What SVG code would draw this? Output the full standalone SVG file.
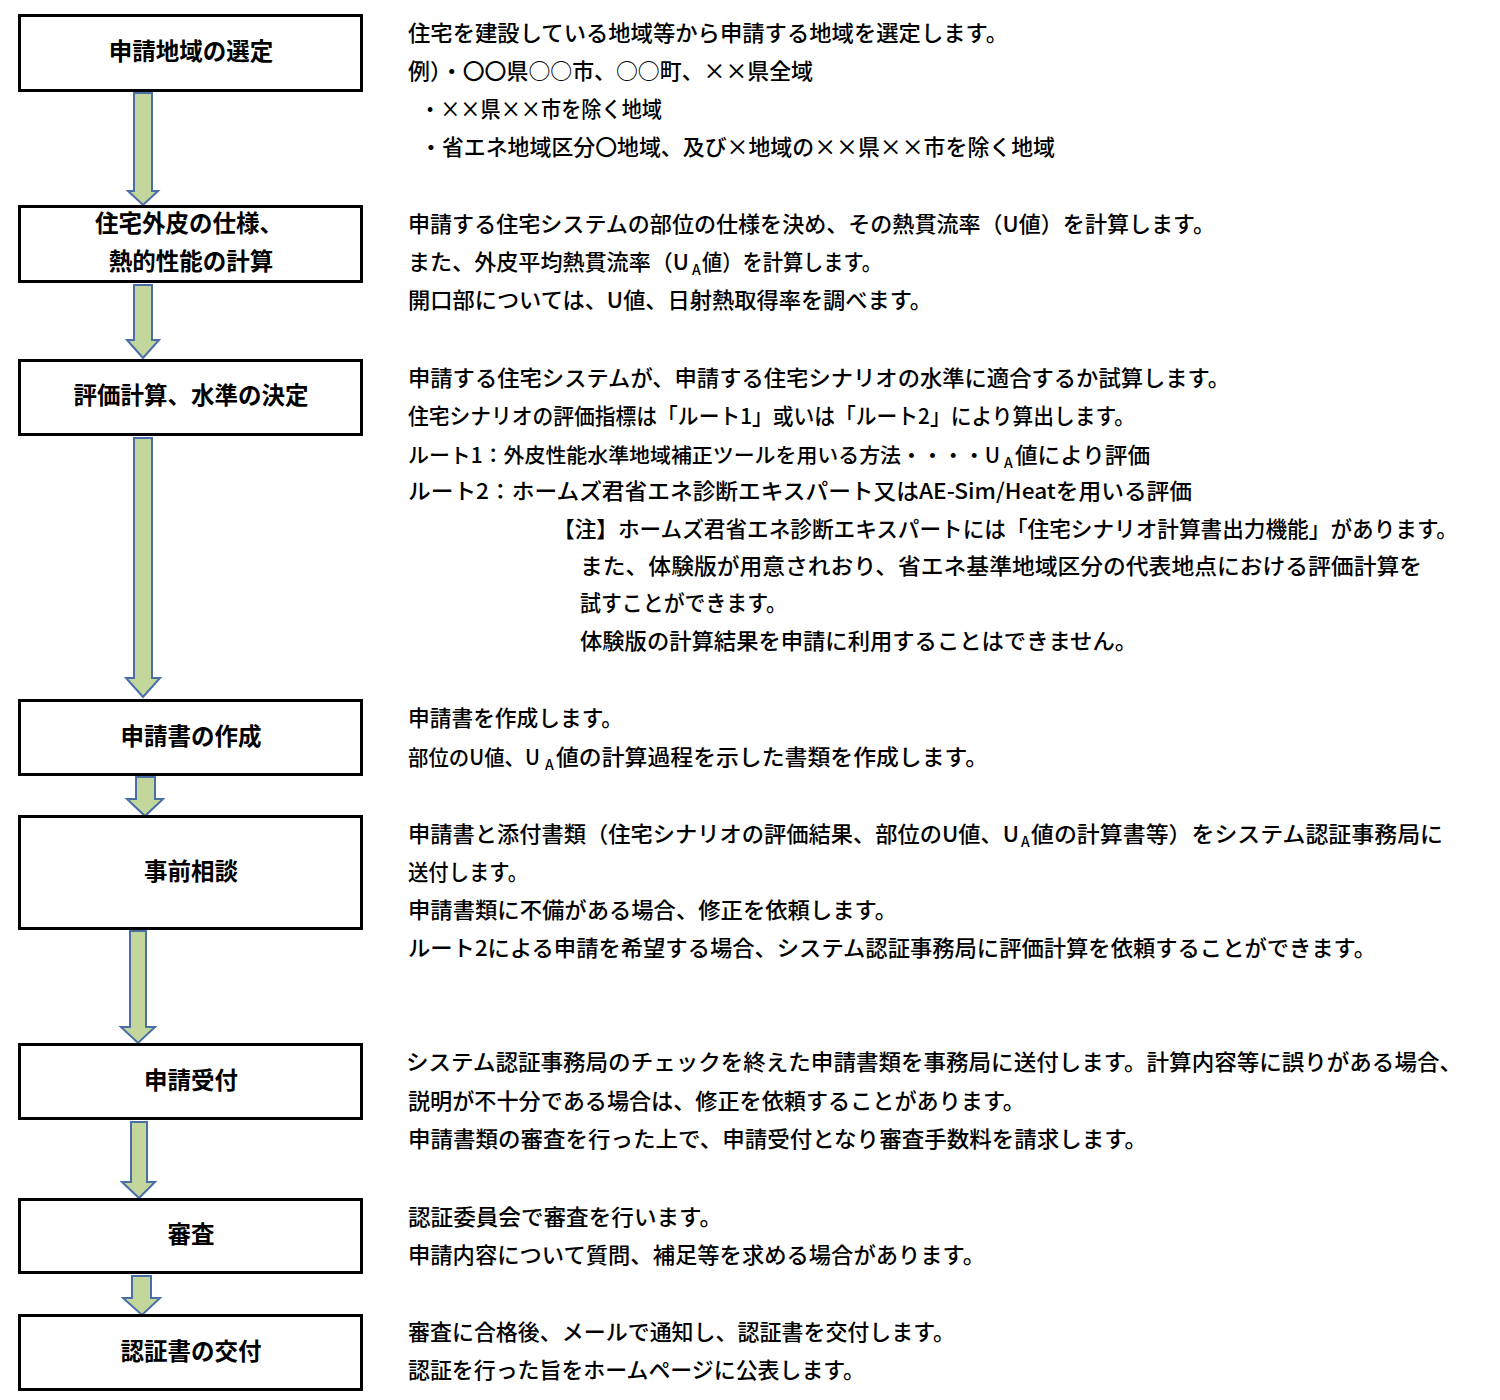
<svg xmlns="http://www.w3.org/2000/svg" width="1500" height="1400" viewBox="0 0 1500 1400">
<style>
.box{fill:#fff;stroke:#000;stroke-width:3}
.lbl{font-family:"Noto Sans CJK JP","Noto Sans",sans-serif;font-size:23.5px;font-weight:bold;fill:#000;text-anchor:middle}
.t{font-family:"Noto Sans CJK JP","Noto Sans",sans-serif;font-size:22px;font-weight:500;fill:#000}
.sub{font-family:"Noto Sans CJK JP","Noto Sans",sans-serif;font-size:14px;font-weight:500;fill:#000}
.arr{fill:#c3d69b;stroke:#4a6fa8;stroke-width:2;stroke-linejoin:miter}
</style>
<rect width="1500" height="1400" fill="#fff"/>
<g id="connectors">
<polygon class="arr" points="134,93 152,93 152,191 158,191 143,205 128,191 134,191"/>
<polygon class="arr" points="134,285 152,285 152,340 159,340 143,358 127,340 134,340"/>
<polygon class="arr" points="134,438 152,438 152,678 160,678 143,697 126,678 134,678"/>
<polygon class="arr" points="136,777 155,777 155,799 163,799 145,816 127,799 136,799"/>
<polygon class="arr" points="130,931 146,931 146,1027 155,1027 138,1043 121,1027 130,1027"/>
<polygon class="arr" points="131,1122 147,1122 147,1182 155,1182 139,1198 122,1182 131,1182"/>
<polygon class="arr" points="132,1276 151,1276 151,1298 160,1298 142,1315 123,1298 132,1298"/>
</g>
<g id="n1"><rect class="box" x="19.5" y="15.5" width="342" height="75"/><text class="lbl" x="191" y="60">申請地域の選定</text></g>
<g id="n2"><rect class="box" x="19.5" y="206.5" width="342" height="75"/><text class="lbl" x="189" y="232">住宅外皮の仕様、</text><text class="lbl" x="191" y="270">熱的性能の計算</text></g>
<g id="n3"><rect class="box" x="19.5" y="360.5" width="342" height="74"/><text class="lbl" x="191" y="404">評価計算、水準の決定</text></g>
<g id="n4"><rect class="box" x="19.5" y="700.5" width="342" height="74"/><text class="lbl" x="191" y="745">申請書の作成</text></g>
<g id="n5"><rect class="box" x="19.5" y="816.5" width="342" height="112"/><text class="lbl" x="191" y="880">事前相談</text></g>
<g id="n6"><rect class="box" x="19.5" y="1044.5" width="342" height="74"/><text class="lbl" x="191" y="1089">申請受付</text></g>
<g id="n7"><rect class="box" x="19.5" y="1199.5" width="342" height="73"/><text class="lbl" x="191" y="1243">審査</text></g>
<g id="n8"><rect class="box" x="19.5" y="1315.5" width="342" height="74"/><text class="lbl" x="191" y="1360">認証書の交付</text></g>
<g id="d1">
<text class="t" x="408" y="41" textLength="600" lengthAdjust="spacingAndGlyphs">住宅を建設している地域等から申請する地域を選定します。</text>
<text class="t" x="408" y="79" textLength="405" lengthAdjust="spacingAndGlyphs">例）・〇〇県○○市、○○町、××県全域</text>
<text class="t" x="420" y="117" textLength="242" lengthAdjust="spacingAndGlyphs">・××県××市を除く地域</text>
<text class="t" x="420" y="155" textLength="635" lengthAdjust="spacingAndGlyphs">・省エネ地域区分〇地域、及び×地域の××県××市を除く地域</text>
</g>
<g id="d2">
<text class="t" x="408" y="232" textLength="807" lengthAdjust="spacingAndGlyphs">申請する住宅システムの部位の仕様を決め、その熱貫流率（U値）を計算します。</text>
<text class="t" x="408" y="270" textLength="281" lengthAdjust="spacingAndGlyphs">また、外皮平均熱貫流率（U</text>
<text class="sub" x="692" y="275">A</text>
<text class="t" x="702" y="270" textLength="180" lengthAdjust="spacingAndGlyphs">値）を計算します。</text>
<text class="t" x="408" y="308" textLength="524" lengthAdjust="spacingAndGlyphs">開口部については、U値、日射熱取得率を調べます。</text>
</g>
<g id="d3">
<text class="t" x="408" y="386" textLength="822" lengthAdjust="spacingAndGlyphs">申請する住宅システムが、申請する住宅シナリオの水準に適合するか試算します。</text>
<text class="t" x="408" y="424" textLength="727" lengthAdjust="spacingAndGlyphs">住宅シナリオの評価指標は「ルート1」或いは「ルート2」により算出します。</text>
<text class="t" x="408" y="463" style="font-size:20.8px" textLength="592" lengthAdjust="spacingAndGlyphs">ルート1：外皮性能水準地域補正ツールを用いる方法・・・・U</text>
<text class="sub" x="1004" y="468">A</text>
<text class="t" x="1015" y="463" textLength="135" lengthAdjust="spacingAndGlyphs">値により評価</text>
<text class="t" x="408" y="499" textLength="784" lengthAdjust="spacingAndGlyphs">ルート2：ホームズ君省エネ診断エキスパート又はAE-Sim/Heatを用いる評価</text>
<text class="t" x="553" y="537" textLength="905" lengthAdjust="spacingAndGlyphs">【注】ホームズ君省エネ診断エキスパートには「住宅シナリオ計算書出力機能」があります。</text>
<text class="t" x="580" y="574" textLength="842" lengthAdjust="spacingAndGlyphs">また、体験版が用意されおり、省エネ基準地域区分の代表地点における評価計算を</text>
<text class="t" x="580" y="611" textLength="207" lengthAdjust="spacingAndGlyphs">試すことができます。</text>
<text class="t" x="580" y="649" textLength="557" lengthAdjust="spacingAndGlyphs">体験版の計算結果を申請に利用することはできません。</text>
</g>
<g id="d4">
<text class="t" x="408" y="726" textLength="215" lengthAdjust="spacingAndGlyphs">申請書を作成します。</text>
<text class="t" x="408" y="765" style="font-size:21px" textLength="132" lengthAdjust="spacingAndGlyphs">部位のU値、U</text>
<text class="sub" x="545" y="770">A</text>
<text class="t" x="556" y="765" textLength="432" lengthAdjust="spacingAndGlyphs">値の計算過程を示した書類を作成します。</text>
</g>
<g id="d5">
<text class="t" x="408" y="842" textLength="611" lengthAdjust="spacingAndGlyphs">申請書と添付書類（住宅シナリオの評価結果、部位のU値、U</text>
<text class="sub" x="1021" y="847">A</text>
<text class="t" x="1031" y="842" textLength="412" lengthAdjust="spacingAndGlyphs">値の計算書等）をシステム認証事務局に</text>
<text class="t" x="408" y="880" textLength="120" lengthAdjust="spacingAndGlyphs">送付します。</text>
<text class="t" x="408" y="918" textLength="489" lengthAdjust="spacingAndGlyphs">申請書類に不備がある場合、修正を依頼します。</text>
<text class="t" x="408" y="956" textLength="968" lengthAdjust="spacingAndGlyphs">ルート2による申請を希望する場合、システム認証事務局に評価計算を依頼することができます。</text>
</g>
<g id="d6">
<text class="t" x="406" y="1070" textLength="1056" lengthAdjust="spacingAndGlyphs">システム認証事務局のチェックを終えた申請書類を事務局に送付します。計算内容等に誤りがある場合、</text>
<text class="t" x="408" y="1109" textLength="617" lengthAdjust="spacingAndGlyphs">説明が不十分である場合は、修正を依頼することがあります。</text>
<text class="t" x="408" y="1147" textLength="739" lengthAdjust="spacingAndGlyphs">申請書類の審査を行った上で、申請受付となり審査手数料を請求します。</text>
</g>
<g id="d7">
<text class="t" x="408" y="1225" textLength="314" lengthAdjust="spacingAndGlyphs">認証委員会で審査を行います。</text>
<text class="t" x="408" y="1263" textLength="577" lengthAdjust="spacingAndGlyphs">申請内容について質問、補足等を求める場合があります。</text>
</g>
<g id="d8">
<text class="t" x="408" y="1340" textLength="547" lengthAdjust="spacingAndGlyphs">審査に合格後、メールで通知し、認証書を交付します。</text>
<text class="t" x="408" y="1378" textLength="457" lengthAdjust="spacingAndGlyphs">認証を行った旨をホームページに公表します。</text>
</g>
</svg>
